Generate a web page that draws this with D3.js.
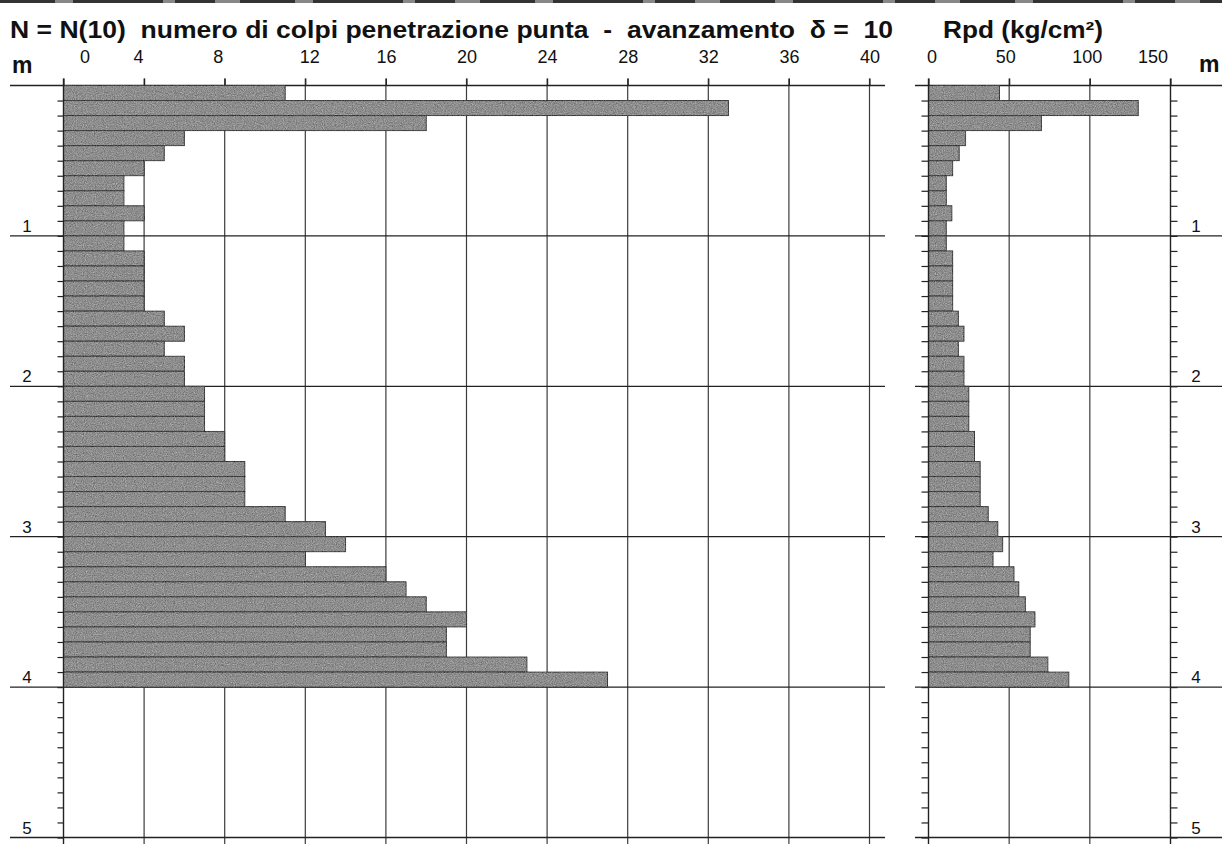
<!DOCTYPE html>
<html>
<head>
<meta charset="utf-8">
<script src="https://cdn.jsdelivr.net/npm/d3@7/dist/d3.min.js"></script>
<style>
  html, body { margin: 0; padding: 0; background: #fff; }
  svg { display: block; font-family: "Liberation Sans", Arial, Helvetica, sans-serif; }
</style>
</head>
<body>
<script>
// Top depth of each 10 cm penetration step (m)
const depthTop = [0.0, 0.1, 0.2, 0.3, 0.4, 0.5, 0.6, 0.7, 0.8, 0.9,
                  1.0, 1.1, 1.2, 1.3, 1.4, 1.5, 1.6, 1.7, 1.8, 1.9,
                  2.0, 2.1, 2.2, 2.3, 2.4, 2.5, 2.6, 2.7, 2.8, 2.9,
                  3.0, 3.1, 3.2, 3.3, 3.4, 3.5, 3.6, 3.7, 3.8, 3.9];
const step = 0.1;

// Blow count N(10) per step
const blows = [11, 33, 18, 6, 5, 4, 3, 3, 4, 3,
               3, 4, 4, 4, 4, 5, 6, 5, 6, 6,
               7, 7, 7, 8, 8, 9, 9, 9, 11, 13,
               14, 12, 16, 17, 18, 20, 19, 19, 23, 27];

// Dynamic point resistance Rpd (kg/cm²) per step
const rpd = [44, 130, 70, 23, 19, 15, 11, 11, 14.5, 11,
             11, 15, 15, 15, 15, 18.5, 22, 18.5, 22, 22,
             25, 25, 25, 28.5, 28.5, 32, 32, 32, 37, 43,
             46, 40, 53, 56, 60, 66, 63, 63, 74, 87];

// Axis ticks and labels
const blowTicks = [0, 4, 8, 12, 16, 20, 24, 28, 32, 36, 40];
const rpdTicks = [0, 50, 100, 150];
const depthTicks = [1, 2, 3, 4, 5];
const titleLeft = "N = N(10)  numero di colpi penetrazione punta  -  avanzamento  δ =  10";
const titleRight = "Rpd (kg/cm²)";
const unitLabel = "m";

const W = 1222, H = 844;
const svg = d3.select("body").append("svg").attr("width", W).attr("height", H);

// grain filter for the shaded bars (opaque grey noise blended into the fill)
const defs = svg.append("defs");
const f = defs.append("filter").attr("id", "grain")
  .attr("x", 0).attr("y", 0).attr("width", 1).attr("height", 1)
  .attr("color-interpolation-filters", "sRGB");
f.append("feTurbulence").attr("type", "fractalNoise").attr("baseFrequency", 0.9)
  .attr("numOctaves", 2).attr("seed", 7).attr("result", "noise");
f.append("feColorMatrix").attr("in", "noise").attr("type", "matrix")
  .attr("values", "0.33 0.33 0.33 0 0  0.33 0.33 0.33 0 0  0.33 0.33 0.33 0 0  0 0 0 0 1")
  .attr("result", "gnoise");
f.append("feComposite").attr("in", "gnoise").attr("in2", "SourceGraphic").attr("operator", "arithmetic")
  .attr("k1", 0).attr("k2", 0.7).attr("k3", 0.85).attr("k4", -0.27).attr("result", "mix");
f.append("feComposite").attr("in", "mix").attr("in2", "SourceGraphic").attr("operator", "in");

// scales
const yD = d3.scaleLinear().domain([0, 5]).range([85.5, 837.5]);
const xN = d3.scaleLinear().domain([0, 40]).range([63.5, 869.5]);
const xR = d3.scaleLinear().domain([0, 150]).range([928.5, 1170.5]);

const ink = "#222";
const gridInk = "#3c3c3c";

// top border band
svg.append("line").attr("x1", 0).attr("x2", W).attr("y1", 1.5).attr("y2", 1.5)
  .attr("stroke", "#888").attr("stroke-width", 3);
svg.append("line").attr("x1", 0).attr("x2", W).attr("y1", 1.5).attr("y2", 1.5)
  .attr("stroke", "#333").attr("stroke-width", 3).attr("stroke-dasharray", "55,18,90,12,40,25");

// titles
svg.append("text").attr("x", 10).attr("y", 38)
  .attr("font-size", 23).attr("font-weight", "bold").attr("fill", "#111")
  .attr("textLength", 883).attr("lengthAdjust", "spacingAndGlyphs")
  .style("white-space", "pre").text(titleLeft);
svg.append("text").attr("x", 943).attr("y", 38)
  .attr("font-size", 23).attr("font-weight", "bold").attr("fill", "#111")
  .attr("textLength", 160).attr("lengthAdjust", "spacingAndGlyphs")
  .text(titleRight);

// unit labels
svg.append("text").attr("x", 12).attr("y", 73).attr("font-size", 23).attr("font-weight", "bold")
  .attr("fill", "#111").text(unitLabel);
svg.append("text").attr("x", 1199).attr("y", 72).attr("font-size", 23).attr("font-weight", "bold")
  .attr("fill", "#111").text(unitLabel);

// ---------- left panel: blow counts ----------
const gL = svg.append("g");

// vertical grid lines
gL.selectAll("line.vgrid").data(blowTicks.filter(t => t > 0)).join("line")
  .attr("class", "vgrid")
  .attr("x1", d => xN(d)).attr("x2", d => xN(d))
  .attr("y1", yD(0) - 7).attr("y2", H)
  .attr("stroke", gridInk).attr("stroke-width", 1.2);

// depth lines every metre
gL.selectAll("line.hgrid").data([0].concat(depthTicks)).join("line")
  .attr("class", "hgrid")
  .attr("x1", 10).attr("x2", 885)
  .attr("y1", d => yD(d)).attr("y2", d => yD(d))
  .attr("stroke", ink).attr("stroke-width", 1.3);

// bars
gL.append("g").attr("filter", "url(#grain)")
  .selectAll("rect").data(depthTop).join("rect")
  .attr("x", xN(0))
  .attr("y", d => yD(d))
  .attr("width", (d, i) => xN(blows[i]) - xN(0))
  .attr("height", yD(step) - yD(0))
  .attr("fill", "#8f8f8f")
  .attr("stroke", "#333").attr("stroke-width", 1);

// top axis with labels
const labelShiftN = v => (v === 0 ? 21 : v === 4 ? -6 : v === 8 ? -7 : v === 12 ? 4 : 0);
const axN = gL.append("g").attr("transform", `translate(0,${yD(0)})`)
  .call(d3.axisTop(xN).tickValues(blowTicks).tickSize(7).tickPadding(16).tickFormat(d3.format("d")));
axN.select(".domain").remove();
axN.selectAll(".tick line").attr("stroke", ink).attr("stroke-width", 1.2);
axN.selectAll(".tick text").attr("font-size", 18).attr("fill", "#111")
  .attr("font-family", "Liberation Sans, Arial, sans-serif")
  .attr("dx", d => labelShiftN(d));

// depth axis with minor ticks
const minor = d3.range(1, 51).map(k => k / 10);
const axD = gL.append("g").attr("transform", `translate(${xN(0)},0)`)
  .call(d3.axisLeft(yD).tickValues(minor).tickSize(6).tickFormat(""));
axD.select(".domain").attr("stroke", ink).attr("stroke-width", 1.4).attr("d", `M0,${yD(0) - 7}V${H}`);
axD.selectAll(".tick line").attr("stroke", ink).attr("stroke-width", 1.2);

gL.selectAll("text.dlab").data(depthTicks).join("text")
  .attr("class", "dlab")
  .attr("x", 27).attr("y", d => yD(d) - 4)
  .attr("text-anchor", "middle").attr("font-size", 17).attr("fill", "#111")
  .text(d => d);

// ---------- right panel: Rpd ----------
const gR = svg.append("g");

gR.selectAll("line.vgrid").data(rpdTicks.filter(t => t > 0 && t < 150)).join("line")
  .attr("class", "vgrid")
  .attr("x1", d => xR(d)).attr("x2", d => xR(d))
  .attr("y1", yD(0) - 7).attr("y2", H)
  .attr("stroke", gridInk).attr("stroke-width", 1.2);

gR.selectAll("line.hgrid").data([0].concat(depthTicks)).join("line")
  .attr("class", "hgrid")
  .attr("x1", 915).attr("x2", W)
  .attr("y1", d => yD(d)).attr("y2", d => yD(d))
  .attr("stroke", ink).attr("stroke-width", 1.3);

gR.append("g").attr("filter", "url(#grain)")
  .selectAll("rect").data(depthTop).join("rect")
  .attr("x", xR(0))
  .attr("y", d => yD(d))
  .attr("width", (d, i) => xR(rpd[i]) - xR(0))
  .attr("height", yD(step) - yD(0))
  .attr("fill", "#8f8f8f")
  .attr("stroke", "#333").attr("stroke-width", 1);

const labelShiftR = v => (v === 0 ? 3 : v === 50 ? -4 : v === 100 ? -3 : v === 150 ? -18 : 0);
const axR = gR.append("g").attr("transform", `translate(0,${yD(0)})`)
  .call(d3.axisTop(xR).tickValues(rpdTicks).tickSize(7).tickPadding(16).tickFormat(d3.format("d")));
axR.select(".domain").remove();
axR.selectAll(".tick line").attr("stroke", ink).attr("stroke-width", 1.2);
axR.selectAll(".tick text").attr("font-size", 18).attr("fill", "#111")
  .attr("font-family", "Liberation Sans, Arial, sans-serif")
  .attr("dx", d => labelShiftR(d));

const axRL = gR.append("g").attr("transform", `translate(${xR(0)},0)`)
  .call(d3.axisLeft(yD).tickValues(minor).tickSize(7).tickFormat(""));
axRL.select(".domain").attr("stroke", ink).attr("stroke-width", 1.4).attr("d", `M0,${yD(0) - 7}V${H}`);
axRL.selectAll(".tick line").attr("stroke", ink).attr("stroke-width", 1.2);

const axRR = gR.append("g").attr("transform", `translate(${xR(150)},0)`)
  .call(d3.axisRight(yD).tickValues(minor).tickSize(7).tickFormat(""));
axRR.select(".domain").attr("stroke", ink).attr("stroke-width", 1.4).attr("d", `M0,${yD(0) - 7}V${H}`);
axRR.selectAll(".tick line").attr("stroke", ink).attr("stroke-width", 1.2);

gR.selectAll("text.dlab").data(depthTicks).join("text")
  .attr("class", "dlab")
  .attr("x", 1196).attr("y", d => yD(d) - 4)
  .attr("text-anchor", "middle").attr("font-size", 17).attr("fill", "#111")
  .text(d => d);
</script>
</body>
</html>
